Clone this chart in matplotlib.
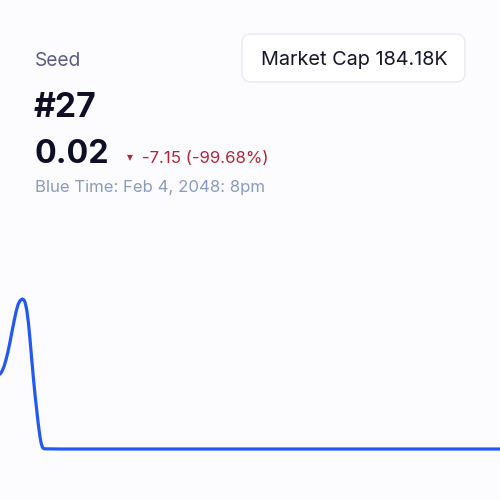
import matplotlib
matplotlib.use("Agg")
import matplotlib.pyplot as plt
from matplotlib.patches import FancyBboxPatch

plt.rcParams['font.family'] = ['Inter', 'DejaVu Sans']

# price series (hours -> price)
hours = [0, 0.4, 0.8, 1.2, 1.6, 2.0, 2.4, 2.8, 3.2, 3.6, 4.0, 4.46, 4.8, 5.0,
         5.34, 5.7, 6.0, 6.33, 6.66, 7.0, 7.34, 7.67, 8.0, 8.23, 8.46, 8.66,
         8.86, 12, 20, 40, 60, 80, 100]
price = [3.59, 3.72, 3.95, 4.27, 4.66, 5.12, 5.62, 6.10, 6.55, 6.90, 7.09, 7.17,
         7.12, 7.02, 6.67, 6.00, 5.25, 4.34, 3.45, 2.62, 1.88, 1.18, 0.60, 0.30,
         0.12, 0.05, 0.03, 0.02, 0.02, 0.02, 0.02, 0.02, 0.02]

token = "Seed"
rank = "#27"
last_price = "0.02"
change = "-7.15 (-99.68%)"
time_label = "Blue Time: Feb 4, 2048: 8pm"
mcap_label = "Market Cap"
mcap_value = "184.18K"

W, H = 500, 500
bg = '#fcfcfe'

fig = plt.figure(figsize=(5, 5), dpi=100, facecolor=bg)

def fx(px):
    return px / W

def fy(py):
    return 1 - py / H

# chart area
ax = fig.add_axes([0, 0, 1, 1])
ax.set_facecolor('none')
ax.plot(hours, price, color='#2458f6', lw=2.3, solid_capstyle='round',
        solid_joinstyle='round')
ax.set_xlim(0, 100)
ax.set_ylim(-2.41, 21.42)
ax.axis('off')

# header texts
fig.text(fx(35), fy(66), token, fontsize=13.8, color='#5b5b86', va='baseline')
fig.text(fx(34), fy(117), rank, fontsize=24.3, fontweight='bold', color='#0e0e26',
         va='baseline')
fig.text(fx(34), fy(163), last_price, fontsize=23.2, fontweight='bold',
         color='#0e0e26', va='baseline')
fig.text(fx(130), fy(157), '\u25BE', fontsize=8.5, color='#b3263a', ha='center',
         va='center', family=['DejaVu Sans'])
fig.text(fx(142), fy(163), change, fontsize=12.1, color='#b3263a', va='baseline')
fig.text(fx(35), fy(192), time_label, fontsize=12.05, color='#8a9bbf',
         va='baseline')

# market cap box
box = FancyBboxPatch((fx(242), fy(82)), fx(465) - fx(242), fy(34) - fy(82),
                     boxstyle='round,pad=0,rounding_size=0.018',
                     transform=fig.transFigure, facecolor='white',
                     edgecolor='#e8e8f2', lw=1.0)
fig.patches.append(box)
fig.text(fx(354), fy(65), mcap_label + ' ' + mcap_value, fontsize=14.3,
         color='#16162a', ha='center', va='baseline')

fig.savefig('out.png', dpi=100, facecolor=bg)
